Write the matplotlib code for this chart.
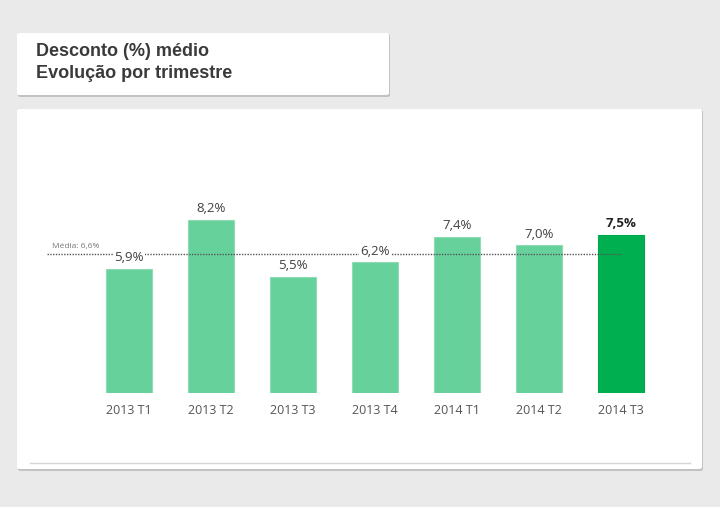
import matplotlib.pyplot as plt
from matplotlib.patches import FancyBboxPatch
from matplotlib.lines import Line2D

# data
quarters = ['2013 T1', '2013 T2', '2013 T3', '2013 T4', '2014 T1', '2014 T2', '2014 T3']
discount = [5.9, 8.2, 5.5, 6.2, 7.4, 7.0, 7.5]
average = 6.6
title_lines = ['Desconto (%) médio', 'Evolução por trimestre']

W, H = 720, 507
fig = plt.figure(figsize=(W / 100, H / 100), dpi=100)
fig.patch.set_facecolor('#eaeaea')


def px_box(x0, y0, x1, y1, **kw):
    # rectangle in pixel coords (top-left origin) -> figure fraction
    return FancyBboxPatch((x0 / W, 1 - y1 / H), (x1 - x0) / W, (y1 - y0) / H,
                          boxstyle='round,pad=0,rounding_size=0.004',
                          transform=fig.transFigure, **kw)


# shadows + panels
fig.patches.append(px_box(18, 34, 390, 97, facecolor='#c2c2c2', edgecolor='none', zorder=0))
fig.patches.append(px_box(17, 33, 389, 95, facecolor='white', edgecolor='none', zorder=1))
fig.patches.append(px_box(18, 110, 703, 471, facecolor='#c2c2c2', edgecolor='none', zorder=0))
fig.patches.append(px_box(17, 109, 702, 469, facecolor='white', edgecolor='none', zorder=1))

fig.text(36 / W, 1 - 52 / H, title_lines[0], fontsize=13, fontweight='bold',
         family='Liberation Sans', color='#3a3a3a', va='center')
fig.text(36 / W, 1 - 74 / H, title_lines[1], fontsize=13, fontweight='bold',
         family='Liberation Sans', color='#3a3a3a', va='center')

# bottom separator line
fig.lines.append(Line2D([30 / W, 690 / W], [1 - 463 / H] * 2, transform=fig.transFigure,
                        color='#d6d6d6', lw=1, zorder=2))

# axes: bar i centred at pixel 129 + 82*i, baseline at y=393
ax = fig.add_axes([47 / W, (H - 393) / H, 656 / W, 273 / H])
ax.set_zorder(3)
ax.patch.set_alpha(0)
ax.set_xlim(-1, 7)
ax.set_ylim(0, 273 / 21.1)

n = len(quarters)
colors = ['#66d19a'] * (n - 1) + ['#00b050']
edges = ['#8fdcb4'] * (n - 1) + ['#00a84c']
ax.bar(range(n), discount, width=0.57, color=colors, edgecolor=edges, linewidth=0.8, zorder=2)

ax.plot([-1, n - 1], [average, average], linestyle=(0, (1, 1)), color='#555555', lw=1, zorder=3)
ax.text(-0.94, average + 0.2, 'Média: 6,6%', fontsize=6,
        family='Open Sans', color='#777777', va='bottom', ha='left', zorder=4)

for i, v in enumerate(discount):
    last = i == n - 1
    ax.text(i, v + 0.22, f'{v:.1f}%'.replace('.', ','), ha='center', va='bottom',
            fontsize=9.5, family='Open Sans', color='#222222' if last else '#404040',
            fontweight='bold' if last else 'normal', zorder=5,
            bbox=dict(facecolor='white', edgecolor='none', pad=1))

ax.set_xticks(range(n))
ax.set_xticklabels(quarters, fontsize=9, family='Open Sans', color='#555555')
ax.tick_params(axis='x', length=0, pad=8)
ax.set_yticks([])
for s in ax.spines.values():
    s.set_visible(False)

fig.savefig('out.png', dpi=100, facecolor=fig.get_facecolor())
